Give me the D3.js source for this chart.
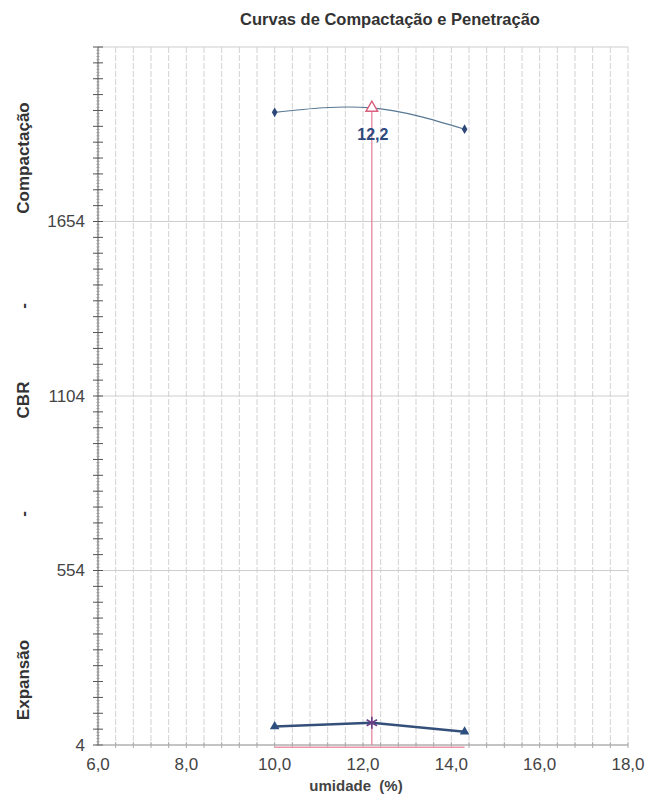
<!DOCTYPE html>
<html>
<head>
<meta charset="utf-8">
<script src="https://cdn.jsdelivr.net/npm/d3@7"></script>
<style>
  body { margin: 0; background: #fff; }
  svg { font-family: "Liberation Sans", Arial, sans-serif; }
</style>
</head>
<body>
<div id="chart"></div>
<script>
// dados
const umidade = [10.0, 12.2, 14.3];
const compactacao = [1998, 2012, 1945];
const cbr = [62, 74, 46];
const expansao = [0, 0, 0];
const umidadeOtima = 12.2;
const rotuloOtima = "12,2";
const yTicks = [4, 554, 1104, 1654];
const xTicks = [6, 8, 10, 12, 14, 16, 18];

const W = 663, H = 796;
const plotLeft = 98, plotRight = 628, plotTop = 47, plotBottom = 745;

const svg = d3.select("#chart").append("svg")
    .attr("width", W)
    .attr("height", H);

const x = d3.scaleLinear().domain([6, 18]).range([plotLeft, plotRight]);
const y = d3.scaleLinear().domain([4, 2204]).range([plotBottom, plotTop]);

// titulo
svg.append("text")
    .attr("x", 390)
    .attr("y", 25)
    .attr("text-anchor", "middle")
    .attr("font-size", 16.5)
    .attr("font-weight", "bold")
    .attr("fill", "#333")
    .text("Curvas de Compactação e Penetração");

// grade vertical (a cada 0,4)
const gridX = d3.range(6.4, 18.01, 0.4);
svg.append("g")
    .selectAll("line")
    .data(gridX)
    .join("line")
    .attr("x1", d => x(d)).attr("x2", d => x(d))
    .attr("y1", plotTop).attr("y2", plotBottom)
    .attr("stroke", "#d2d2d2")
    .attr("stroke-width", 1)
    .attr("stroke-dasharray", "6,2");

// grade horizontal
svg.append("g")
    .selectAll("line")
    .data(yTicks.slice(1).concat([2204]))
    .join("line")
    .attr("x1", plotLeft).attr("x2", plotRight)
    .attr("y1", d => y(d)).attr("y2", d => y(d))
    .attr("stroke", "#cdcdcd")
    .attr("stroke-width", 1);

// eixo y
const yAxis = svg.append("g").attr("transform", `translate(${plotLeft},0)`);
yAxis.append("line")
    .attr("x1", 0).attr("x2", 0).attr("y1", plotTop).attr("y2", plotBottom)
    .attr("stroke", "#555");
yAxis.selectAll("line.small")
    .data(d3.range(4, 2204, 10))
    .join("line")
    .attr("class", "small")
    .attr("x1", -1.5).attr("x2", 1.5)
    .attr("y1", d => y(d)).attr("y2", d => y(d))
    .attr("stroke", "#999");
yAxis.selectAll("line.minor")
    .data(d3.range(4, 2205, 50))
    .join("line")
    .attr("class", "minor")
    .attr("x1", -5).attr("x2", 5)
    .attr("y1", d => y(d)).attr("y2", d => y(d))
    .attr("stroke", "#555");
yAxis.selectAll("text")
    .data(yTicks)
    .join("text")
    .attr("x", -13)
    .attr("y", d => y(d))
    .attr("dy", "0.35em")
    .attr("text-anchor", "end")
    .attr("font-size", 17)
    .attr("fill", "#444")
    .text(d => d);

// eixo x
const xAxis = svg.append("g").attr("transform", `translate(0,${plotBottom})`);
xAxis.append("line")
    .attr("x1", plotLeft).attr("x2", plotRight)
    .attr("stroke", "#888");
xAxis.selectAll("line.t")
    .data(gridX)
    .join("line")
    .attr("class", "t")
    .attr("x1", d => x(d)).attr("x2", d => x(d))
    .attr("y1", -3).attr("y2", 3)
    .attr("stroke", "#aaa");
xAxis.selectAll("text")
    .data(xTicks)
    .join("text")
    .attr("x", d => x(d))
    .attr("y", 25)
    .attr("text-anchor", "middle")
    .attr("font-size", 17)
    .attr("fill", "#444")
    .text(d => d3.format(".1f")(d).replace(".", ","));

svg.append("text")
    .attr("x", 356)
    .attr("y", 791)
    .attr("text-anchor", "middle")
    .attr("font-size", 15)
    .attr("font-weight", "bold")
    .attr("fill", "#444")
    .attr("xml:space", "preserve")
    .text("umidade  (%)");

// rotulos do eixo y
const yLabels = [
    {t: "Compactação", c: 158},
    {t: "-", c: 306},
    {t: "CBR", c: 400},
    {t: "-", c: 514},
    {t: "Expansão", c: 680}
];
svg.selectAll("text.ylab")
    .data(yLabels)
    .join("text")
    .attr("class", "ylab")
    .attr("transform", d => `translate(29,${d.c}) rotate(-90)`)
    .attr("text-anchor", "middle")
    .attr("font-size", 17)
    .attr("font-weight", "bold")
    .attr("fill", "#333")
    .text(d => d.t);

// linha vertical da umidade otima
const iOt = umidade.indexOf(umidadeOtima);
svg.append("line")
    .attr("x1", x(umidadeOtima)).attr("x2", x(umidadeOtima))
    .attr("y1", y(compactacao[iOt])).attr("y2", plotBottom)
    .attr("stroke", "#e27d95")
    .attr("stroke-width", 1.2);

// expansao
svg.append("path")
    .datum(umidade.map((u, i) => [u, expansao[i]]))
    .attr("d", d3.line().x(d => x(d[0])).y(d => y(d[1]) + 1))
    .attr("fill", "none")
    .attr("stroke", "#ec96aa")
    .attr("stroke-width", 1.6);

// curva de compactacao
const compPts = umidade.map((u, i) => [u, compactacao[i]]);
svg.append("path")
    .datum(compPts)
    .attr("d", d3.line().curve(d3.curveNatural).x(d => x(d[0])).y(d => y(d[1])))
    .attr("fill", "none")
    .attr("stroke", "#587894")
    .attr("stroke-width", 1.1);

svg.selectAll("path.diam")
    .data(compPts.filter((d, i) => i !== iOt))
    .join("path")
    .attr("class", "diam")
    .attr("transform", d => `translate(${x(d[0])},${y(d[1])})`)
    .attr("d", d3.symbol(d3.symbolDiamond, 28))
    .attr("fill", "#2d4878");

svg.append("path")
    .attr("transform", `translate(${x(umidadeOtima)},${y(compactacao[iOt])})`)
    .attr("d", d3.symbol(d3.symbolTriangle, 60))
    .attr("fill", "#fff")
    .attr("stroke", "#d9607e")
    .attr("stroke-width", 1.4);

svg.append("text")
    .attr("x", x(umidadeOtima) + 1)
    .attr("y", y(compactacao[iOt]) + 32)
    .attr("text-anchor", "middle")
    .attr("font-size", 16)
    .attr("font-weight", "bold")
    .attr("fill", "#2e4a7e")
    .text(rotuloOtima);

// curva CBR
const cbrPts = umidade.map((u, i) => [u, cbr[i]]);
svg.append("path")
    .datum(cbrPts)
    .attr("d", d3.line().x(d => x(d[0])).y(d => y(d[1])))
    .attr("fill", "none")
    .attr("stroke", "#34507a")
    .attr("stroke-width", 2.5);

svg.selectAll("path.tri")
    .data(cbrPts.filter((d, i) => i !== iOt))
    .join("path")
    .attr("class", "tri")
    .attr("transform", d => `translate(${x(d[0])},${y(d[1])})`)
    .attr("d", d3.symbol(d3.symbolTriangle, 40))
    .attr("fill", "#2d4f80");

// marcador asterisco no CBR da umidade otima
const ast = svg.append("g")
    .attr("transform", `translate(${x(umidadeOtima)},${y(cbr[iOt])})`)
    .attr("stroke", "#6a3f86")
    .attr("stroke-width", 1.6);
[0, 60, 120].forEach(a => {
    const r = a * Math.PI / 180;
    ast.append("line")
        .attr("x1", -6 * Math.sin(r)).attr("y1", -6 * Math.cos(r))
        .attr("x2", 6 * Math.sin(r)).attr("y2", 6 * Math.cos(r));
});
</script>
</body>
</html>
